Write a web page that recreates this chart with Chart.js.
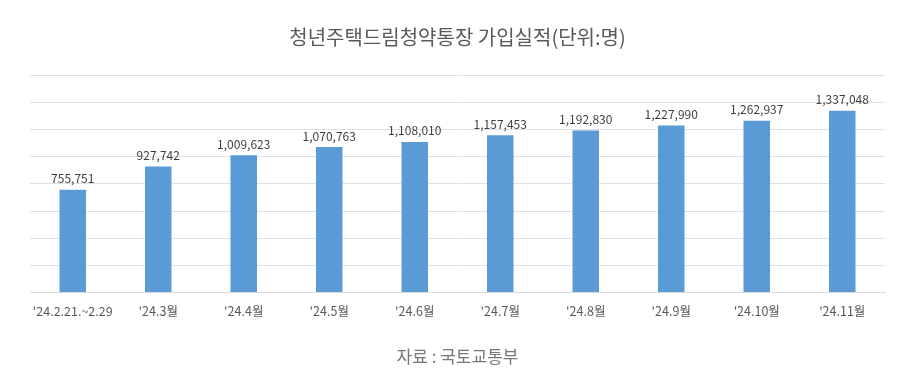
<!DOCTYPE html>
<html><head><meta charset="utf-8">
<script src="https://cdn.jsdelivr.net/npm/chart.js@4/dist/chart.umd.min.js"></script>
<style>html,body{margin:0;padding:0;background:#fff;}#wrap{width:909px;height:383px;position:relative;}</style>
</head><body><div id="wrap"><canvas id="c" width="909" height="383"></canvas></div>
<script>
const categories = ["'24.2.21.~2.29", "'24.3월", "'24.4월", "'24.5월", "'24.6월", "'24.7월", "'24.8월", "'24.9월", "'24.10월", "'24.11월"];
const subscribers = [755751, 927742, 1009623, 1070763, 1108010, 1157453, 1192830, 1227990, 1262937, 1337048];
const titleText = "청년주택드림청약통장 가입실적(단위:명)";
const sourceText = "자료 : 국토교통부";
const FONT = "'Noto Sans CJK KR', 'Noto Sans', sans-serif";

const labelPlugin = {
  id: 'barLabels',
  afterDatasetsDraw(chart) {
    const ctx = chart.ctx;
    const meta = chart.getDatasetMeta(0);
    ctx.save();
    ctx.font = "12px " + FONT;
    ctx.fillStyle = "#404040";
    ctx.textAlign = "center";
    ctx.textBaseline = "bottom";
    meta.data.forEach((bar, i) => {
      ctx.fillText(subscribers[i].toLocaleString('en-US'), bar.x, bar.y - 5);
    });
    ctx.restore();
  }
};

new Chart(document.getElementById('c'), {
  type: 'bar',
  data: {
    labels: categories,
    datasets: [{
      data: subscribers,
      backgroundColor: '#5B9BD5',
      categoryPercentage: 1.0,
      barPercentage: 0.31
    }]
  },
  options: {
    responsive: false,
    animation: false,
    devicePixelRatio: 1,
    layout: { padding: { left: 30, right: 24, top: 0, bottom: 0 } },
    plugins: {
      legend: { display: false },
      tooltip: { enabled: false },
      title: {
        display: true, text: titleText, color: '#595959',
        font: { family: FONT, size: 20, weight: 'normal' },
        padding: { top: 25, bottom: 26 }
      },
      subtitle: {
        display: true, position: 'bottom', text: sourceText, color: '#777777',
        font: { family: FONT, size: 17, weight: 'normal' },
        padding: { top: 25, bottom: 16 }
      }
    },
    scales: {
      x: {
        grid: { display: false },
        border: { color: '#d9d9d9' },
        ticks: { color: '#595959', font: { family: FONT, size: 12.5 }, padding: 3, maxRotation: 0 }
      },
      y: {
        min: 0, max: 1600000,
        ticks: { display: false, stepSize: 200000 },
        grid: { color: '#e0e0e0', drawTicks: false },
        border: { display: false }
      }
    }
  },
  plugins: [labelPlugin]
});
</script></body></html>
